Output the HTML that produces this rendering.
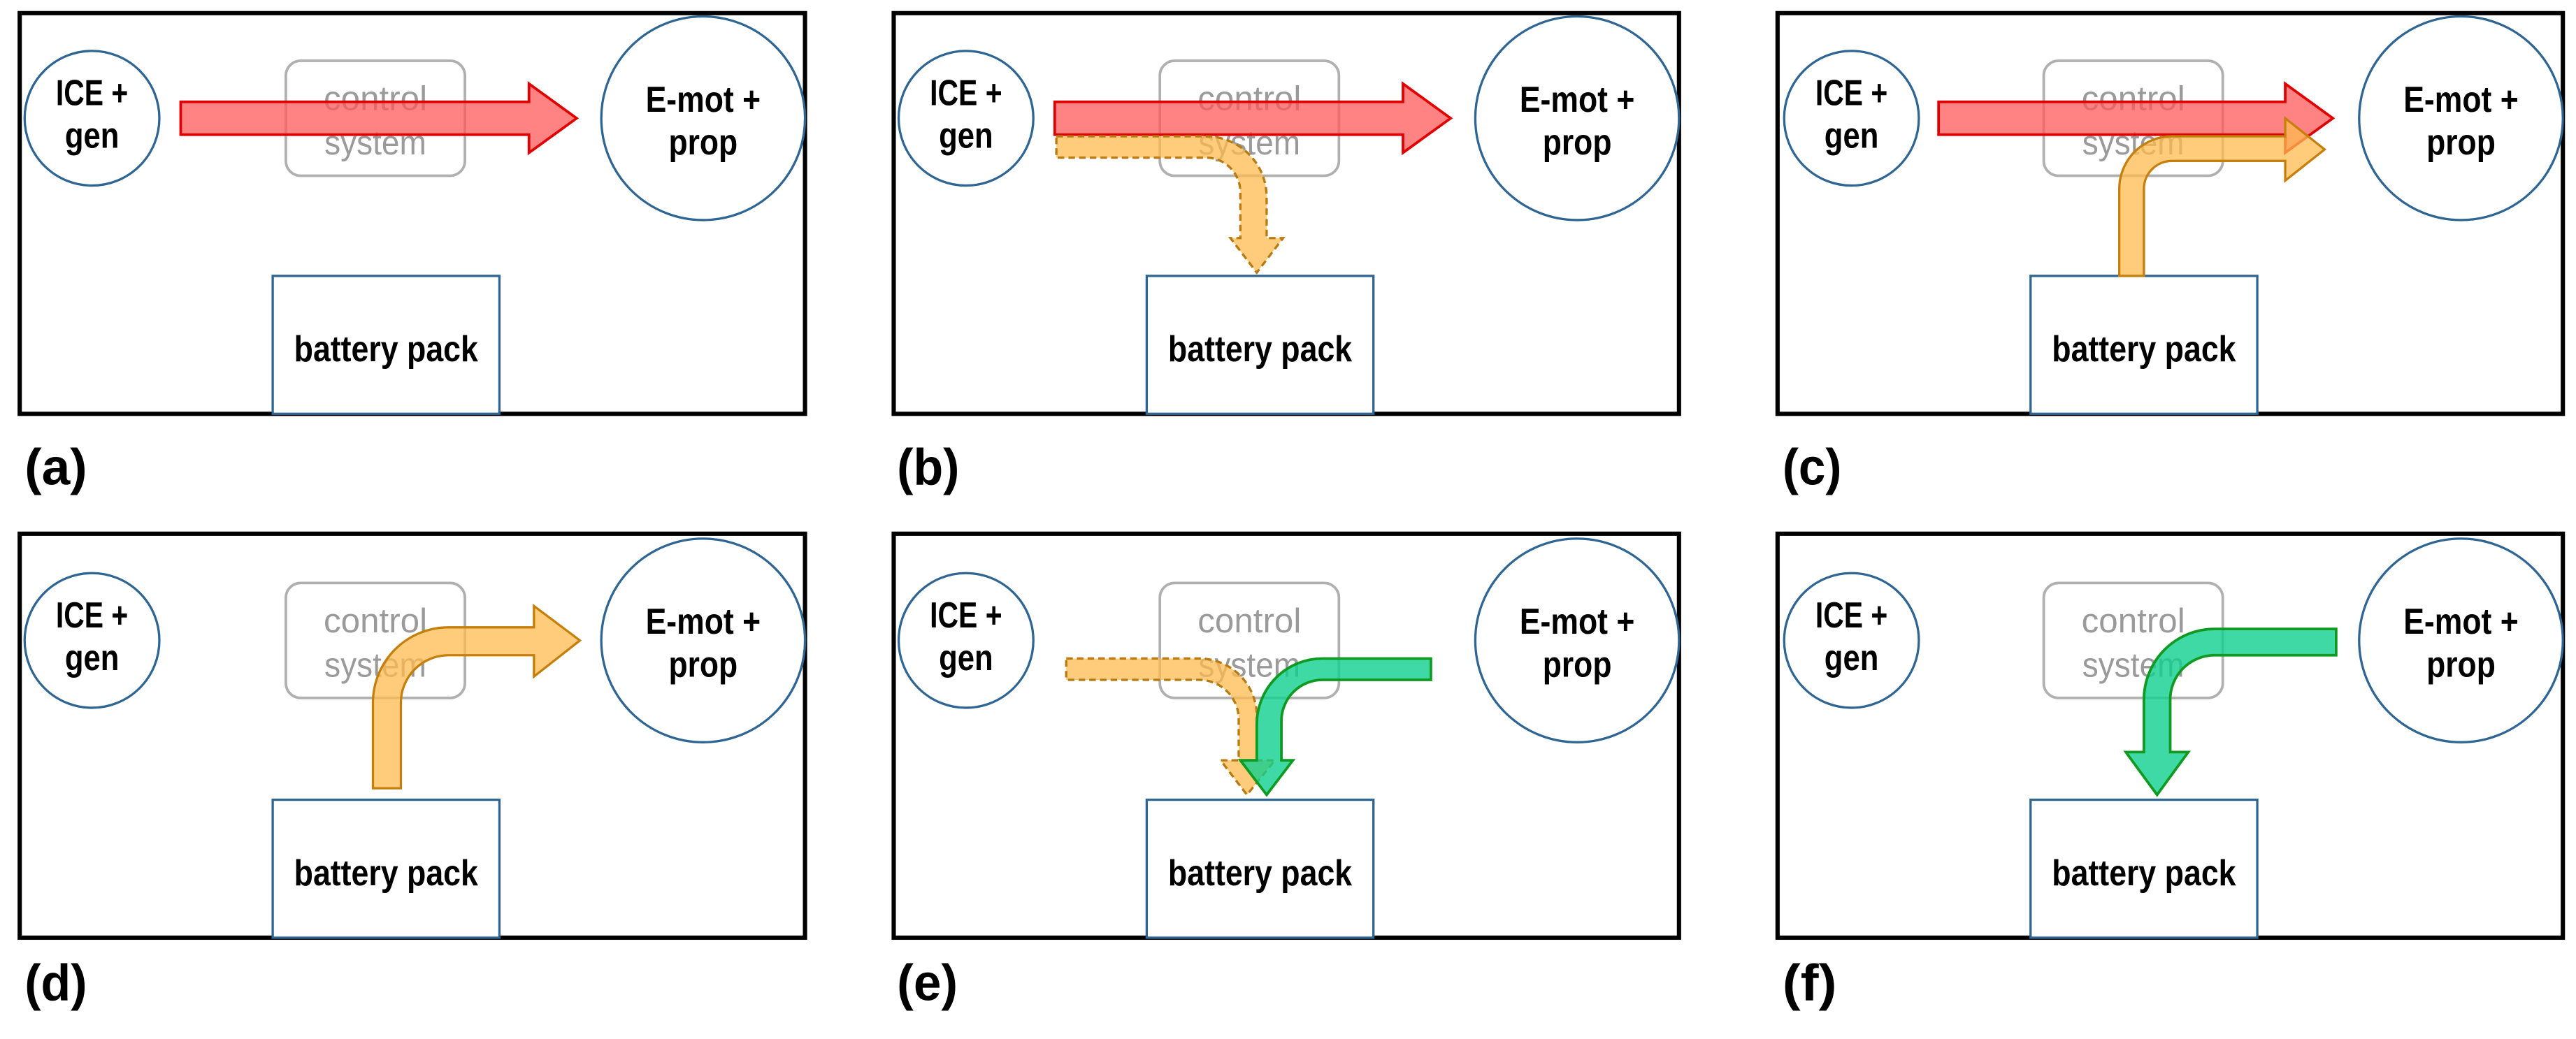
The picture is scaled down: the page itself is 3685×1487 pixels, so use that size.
<!DOCTYPE html>
<html><head><meta charset="utf-8"><style>
html,body{margin:0;padding:0;background:#fff;}
svg{display:block;}
.t{font-family:"Liberation Sans",sans-serif;font-weight:bold;font-size:22px;fill:#000;}
.g{font-family:"Liberation Sans",sans-serif;font-size:21px;fill:#9a9a9a;}
.lb{font-family:"Liberation Sans",sans-serif;font-size:31px;fill:#000;font-weight:bold;}
.fr{fill:none;stroke:#000;stroke-width:2.6;}
.bl{fill:#fff;stroke:#2e6593;stroke-width:1.4;}
.cb{fill:none;stroke:#b0b0b0;stroke-width:1.6;}
.red{fill:#ff5a5a;fill-opacity:0.75;stroke:#e00000;stroke-width:1.6;}
.or{fill:#ffbb50;fill-opacity:0.75;stroke:#c57f0c;stroke-width:1.4;}
.ord{fill:#ffbb50;fill-opacity:0.75;stroke:#b87a10;stroke-width:1.4;stroke-dasharray:4,2.5;}
.gr{fill:#0fd08f;fill-opacity:0.8;stroke:#119a22;stroke-width:1.6;}
</style></head><body>
<svg width="3685" height="1487" viewBox="0 0 1568 632.7" preserveAspectRatio="none" xmlns="http://www.w3.org/2000/svg">
<rect x="0" y="0" width="1568" height="632.7" fill="#fff"/>

<!-- (a) -->
<g transform="translate(12,8)">
<rect class="fr" x="0" y="0" width="478" height="244"/>
<circle class="bl" cx="44" cy="64" r="41"/>
<circle class="bl" cx="416" cy="64" r="62"/>
<rect class="cb" x="162" y="29" width="109" height="70" rx="9"/>
<text class="g" x="216.5" y="59" text-anchor="middle" textLength="63" lengthAdjust="spacingAndGlyphs">control</text>
<text class="g" x="216.5" y="86" text-anchor="middle" textLength="62" lengthAdjust="spacingAndGlyphs">system</text>
<rect class="bl" x="154" y="160" width="138" height="84"/>
<text class="t" x="44" y="56" text-anchor="middle" textLength="44" lengthAdjust="spacingAndGlyphs">ICE +</text>
<text class="t" x="44" y="82" text-anchor="middle" textLength="33" lengthAdjust="spacingAndGlyphs">gen</text>
<text class="t" x="416" y="60" text-anchor="middle" textLength="70" lengthAdjust="spacingAndGlyphs">E-mot +</text>
<text class="t" x="416" y="86" text-anchor="middle" textLength="42" lengthAdjust="spacingAndGlyphs">prop</text>
<text class="t" x="223" y="212" text-anchor="middle" textLength="112" lengthAdjust="spacingAndGlyphs">battery pack</text>
<path class="red" d="M98,54 H310 V43 L339,64 L310,85 V74 H98 Z"/>
<text class="lb" x="3" y="287" textLength="38" lengthAdjust="spacingAndGlyphs">(a)</text>
</g>

<!-- (b) -->
<g transform="translate(544,8)">
<rect class="fr" x="0" y="0" width="478" height="244"/>
<circle class="bl" cx="44" cy="64" r="41"/>
<circle class="bl" cx="416" cy="64" r="62"/>
<rect class="cb" x="162" y="29" width="109" height="70" rx="9"/>
<text class="g" x="216.5" y="59" text-anchor="middle" textLength="63" lengthAdjust="spacingAndGlyphs">control</text>
<text class="g" x="216.5" y="86" text-anchor="middle" textLength="62" lengthAdjust="spacingAndGlyphs">system</text>
<rect class="bl" x="154" y="160" width="138" height="84"/>
<text class="t" x="44" y="56" text-anchor="middle" textLength="44" lengthAdjust="spacingAndGlyphs">ICE +</text>
<text class="t" x="44" y="82" text-anchor="middle" textLength="33" lengthAdjust="spacingAndGlyphs">gen</text>
<text class="t" x="416" y="60" text-anchor="middle" textLength="70" lengthAdjust="spacingAndGlyphs">E-mot +</text>
<text class="t" x="416" y="86" text-anchor="middle" textLength="42" lengthAdjust="spacingAndGlyphs">prop</text>
<text class="t" x="223" y="212" text-anchor="middle" textLength="112" lengthAdjust="spacingAndGlyphs">battery pack</text>
<path class="red" d="M98,54 H310 V43 L339,64 L310,85 V74 H98 Z"/>
<path class="ord" d="M99,75 H190 A37,37 0 0 1 227,112 V137 H237 L221,158 L205,137 H211 V109 A21,21 0 0 0 190,88 H99 Z"/>
<text class="lb" x="2" y="287" textLength="38" lengthAdjust="spacingAndGlyphs">(b)</text>
</g>

<!-- (c) -->
<g transform="translate(1082,8)">
<rect class="fr" x="0" y="0" width="478" height="244"/>
<circle class="bl" cx="45" cy="64" r="41"/>
<circle class="bl" cx="416" cy="64" r="62"/>
<rect class="cb" x="162" y="29" width="109" height="70" rx="9"/>
<text class="g" x="216.5" y="59" text-anchor="middle" textLength="63" lengthAdjust="spacingAndGlyphs">control</text>
<text class="g" x="216.5" y="86" text-anchor="middle" textLength="62" lengthAdjust="spacingAndGlyphs">system</text>
<rect class="bl" x="154" y="160" width="138" height="84"/>
<text class="t" x="45" y="56" text-anchor="middle" textLength="44" lengthAdjust="spacingAndGlyphs">ICE +</text>
<text class="t" x="45" y="82" text-anchor="middle" textLength="33" lengthAdjust="spacingAndGlyphs">gen</text>
<text class="t" x="416" y="60" text-anchor="middle" textLength="70" lengthAdjust="spacingAndGlyphs">E-mot +</text>
<text class="t" x="416" y="86" text-anchor="middle" textLength="42" lengthAdjust="spacingAndGlyphs">prop</text>
<text class="t" x="223" y="212" text-anchor="middle" textLength="112" lengthAdjust="spacingAndGlyphs">battery pack</text>
<path class="red" d="M98,54 H309 V43 L338,64 L309,85 V74 H98 Z"/>
<path class="or" d="M208,160 V107 A32,32 0 0 1 240,75 H309 V64 L333,83 L309,102 V90 H240 A17,17 0 0 0 223,107 V160 Z"/>
<text class="lb" x="3" y="287" textLength="36" lengthAdjust="spacingAndGlyphs">(c)</text>
</g>

<!-- (d) -->
<g transform="translate(12,325)">
<rect class="fr" x="0" y="0" width="478" height="246"/>
<circle class="bl" cx="44" cy="65" r="41"/>
<circle class="bl" cx="416" cy="65" r="62"/>
<rect class="cb" x="162" y="30" width="109" height="70" rx="9"/>
<text class="g" x="216.5" y="60" text-anchor="middle" textLength="63" lengthAdjust="spacingAndGlyphs">control</text>
<text class="g" x="216.5" y="87" text-anchor="middle" textLength="62" lengthAdjust="spacingAndGlyphs">system</text>
<rect class="bl" x="154" y="162" width="138" height="84"/>
<text class="t" x="44" y="57" text-anchor="middle" textLength="44" lengthAdjust="spacingAndGlyphs">ICE +</text>
<text class="t" x="44" y="83" text-anchor="middle" textLength="33" lengthAdjust="spacingAndGlyphs">gen</text>
<text class="t" x="416" y="61" text-anchor="middle" textLength="70" lengthAdjust="spacingAndGlyphs">E-mot +</text>
<text class="t" x="416" y="87" text-anchor="middle" textLength="42" lengthAdjust="spacingAndGlyphs">prop</text>
<text class="t" x="223" y="214" text-anchor="middle" textLength="112" lengthAdjust="spacingAndGlyphs">battery pack</text>
<path class="or" d="M215,155 V103 A46,46 0 0 1 261,57 H313 V44 L341,65 L313,87 V74 H261 A29,29 0 0 0 232,103 V155 Z"/>
<text class="lb" x="3" y="284" textLength="38" lengthAdjust="spacingAndGlyphs">(d)</text>
</g>

<!-- (e) -->
<g transform="translate(544,325)">
<rect class="fr" x="0" y="0" width="478" height="246"/>
<circle class="bl" cx="44" cy="65" r="41"/>
<circle class="bl" cx="416" cy="65" r="62"/>
<rect class="cb" x="162" y="30" width="109" height="70" rx="9"/>
<text class="g" x="216.5" y="60" text-anchor="middle" textLength="63" lengthAdjust="spacingAndGlyphs">control</text>
<text class="g" x="216.5" y="87" text-anchor="middle" textLength="62" lengthAdjust="spacingAndGlyphs">system</text>
<rect class="bl" x="154" y="162" width="138" height="84"/>
<text class="t" x="44" y="57" text-anchor="middle" textLength="44" lengthAdjust="spacingAndGlyphs">ICE +</text>
<text class="t" x="44" y="83" text-anchor="middle" textLength="33" lengthAdjust="spacingAndGlyphs">gen</text>
<text class="t" x="416" y="61" text-anchor="middle" textLength="70" lengthAdjust="spacingAndGlyphs">E-mot +</text>
<text class="t" x="416" y="87" text-anchor="middle" textLength="42" lengthAdjust="spacingAndGlyphs">prop</text>
<text class="t" x="223" y="214" text-anchor="middle" textLength="112" lengthAdjust="spacingAndGlyphs">battery pack</text>
<path class="ord" d="M105,76 H186 A35,35 0 0 1 221,111 V138 H232 L215,159 L199,138 H210 V113 A24,24 0 0 0 186,89 H105 Z"/>
<path class="gr" d="M327,76 H261 A40,40 0 0 0 221,116 V138 H211 L227,159 L243,138 H236 V114 A25,25 0 0 1 261,89 H327 Z"/>
<text class="lb" x="2" y="284" textLength="37" lengthAdjust="spacingAndGlyphs">(e)</text>
</g>

<!-- (f) -->
<g transform="translate(1082,325)">
<rect class="fr" x="0" y="0" width="478" height="246"/>
<circle class="bl" cx="45" cy="65" r="41"/>
<circle class="bl" cx="416" cy="65" r="62"/>
<rect class="cb" x="162" y="30" width="109" height="70" rx="9"/>
<text class="g" x="216.5" y="60" text-anchor="middle" textLength="63" lengthAdjust="spacingAndGlyphs">control</text>
<text class="g" x="216.5" y="87" text-anchor="middle" textLength="62" lengthAdjust="spacingAndGlyphs">system</text>
<rect class="bl" x="154" y="162" width="138" height="84"/>
<text class="t" x="45" y="57" text-anchor="middle" textLength="44" lengthAdjust="spacingAndGlyphs">ICE +</text>
<text class="t" x="45" y="83" text-anchor="middle" textLength="33" lengthAdjust="spacingAndGlyphs">gen</text>
<text class="t" x="416" y="61" text-anchor="middle" textLength="70" lengthAdjust="spacingAndGlyphs">E-mot +</text>
<text class="t" x="416" y="87" text-anchor="middle" textLength="42" lengthAdjust="spacingAndGlyphs">prop</text>
<text class="t" x="223" y="214" text-anchor="middle" textLength="112" lengthAdjust="spacingAndGlyphs">battery pack</text>
<path class="gr" d="M340,58 H266 A43,43 0 0 0 223,101 V133 H212 L231,159 L250,133 H239 V101 A27,27 0 0 1 266,74 H340 Z"/>
<text class="lb" x="3" y="284" textLength="33" lengthAdjust="spacingAndGlyphs">(f)</text>
</g>
</svg>
</body></html>
